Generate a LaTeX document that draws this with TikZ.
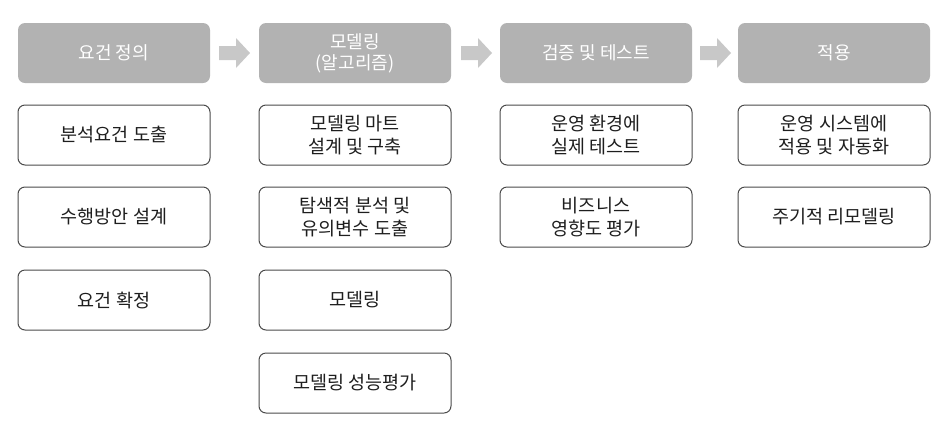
\documentclass[tikz,border=0pt]{standalone}
\usepackage{fontspec}
\setmainfont{Noto Sans CJK KR}
\definecolor{hd}{RGB}{178,178,178}
\definecolor{ar}{RGB}{200,200,200}
\definecolor{tx}{RGB}{30,30,30}
\begin{document}
\begin{tikzpicture}[x=1pt,y=-1pt,
  hdbox/.style={fill=hd,draw=none,rounded corners=7pt,minimum width=192pt,minimum height=60pt,text=white,font=\fontsize{18}{21}\selectfont,align=center,inner sep=0pt},
  subbox/.style={fill=white,draw=tx!80,line width=1pt,rounded corners=7pt,minimum width=192pt,minimum height=60pt,text=tx,font=\fontsize{18.5}{23}\selectfont,align=center,inner sep=0pt},
  flow/.style={fill=ar,draw=none}]
\useasboundingbox (0,0) rectangle (936,432);
\node[hdbox] (h1) at (114,53) {요건 정의};
\node[hdbox] (h2) at (355,53) {모델링\\(알고리즘)};
\node[hdbox] (h3) at (596,53) {검증 및 테스트};
\node[hdbox] (h4) at (834,53) {적용};
\foreach \c in {234,476,715}{
  \fill[flow] (\c-15,46) -- (\c+2,46) -- (\c+2,38) -- (\c+16,53) -- (\c+2,68) -- (\c+2,60) -- (\c-15,60) -- cycle;
}
\node[subbox] (b11) at (114,135) {분석요건 도출};
\node[subbox] (b12) at (114,217) {수행방안 설계};
\node[subbox] (b13) at (114,300) {요건 확정};
\node[subbox] (b21) at (355,135) {모델링 마트\\설계 및 구축};
\node[subbox] (b22) at (355,217) {탐색적 분석 및\\유의변수 도출};
\node[subbox] (b23) at (355,300) {모델링};
\node[subbox] (b24) at (355,383) {모델링 성능평가};
\node[subbox] (b31) at (596,135) {운영 환경에\\실제 테스트};
\node[subbox] (b32) at (596,217) {비즈니스\\영향도 평가};
\node[subbox] (b41) at (834,135) {운영 시스템에\\적용 및 자동화};
\node[subbox] (b42) at (834,217) {주기적 리모델링};
\end{tikzpicture}
\end{document}
